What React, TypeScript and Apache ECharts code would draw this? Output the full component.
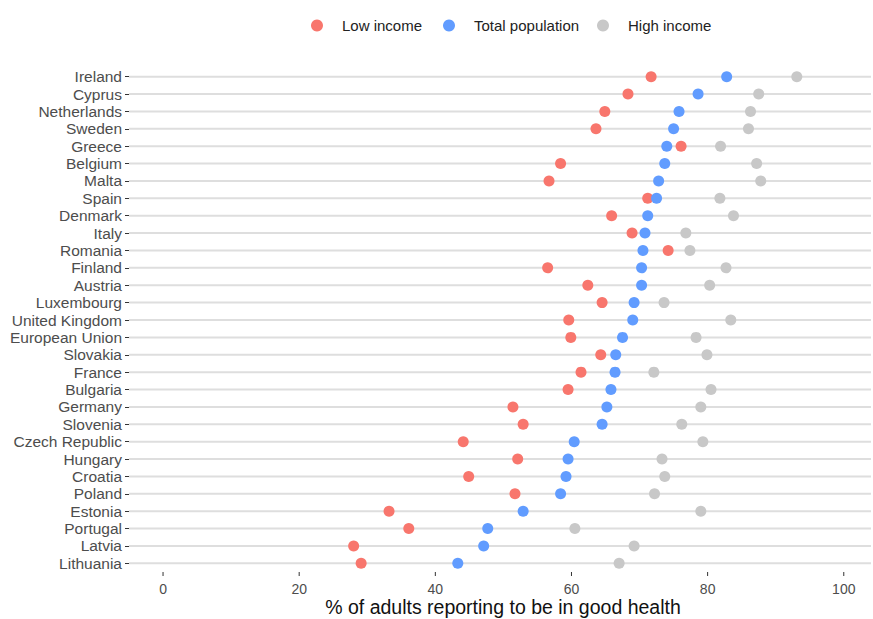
import React, { useEffect, useRef } from "react";
import * as echarts from "echarts";

const countries = [
  "Ireland", "Cyprus", "Netherlands", "Sweden", "Greece", "Belgium", "Malta", "Spain",
  "Denmark", "Italy", "Romania", "Finland", "Austria", "Luxembourg", "United Kingdom",
  "European Union", "Slovakia", "France", "Bulgaria", "Germany", "Slovenia", "Czech Republic",
  "Hungary", "Croatia", "Poland", "Estonia", "Portugal", "Latvia", "Lithuania",
];
const lowIncome = [
  71.7, 68.3, 64.9, 63.6, 76.1, 58.4, 56.7, 71.2, 65.9, 68.9, 74.2, 56.5, 62.4, 64.5, 59.6,
  59.9, 64.3, 61.4, 59.5, 51.4, 52.9, 44.1, 52.1, 44.9, 51.7, 33.2, 36.1, 28.0, 29.1,
];
const totalPopulation = [
  82.8, 78.6, 75.8, 75.0, 74.0, 73.7, 72.8, 72.5, 71.2, 70.8, 70.5, 70.3, 70.3, 69.2, 69.0,
  67.5, 66.5, 66.4, 65.8, 65.2, 64.5, 60.4, 59.5, 59.2, 58.4, 52.9, 47.7, 47.1, 43.3,
];
const highIncome = [
  93.1, 87.5, 86.3, 86.0, 81.9, 87.2, 87.8, 81.8, 83.8, 76.8, 77.4, 82.7, 80.3, 73.6, 83.4,
  78.3, 79.9, 72.1, 80.5, 79.0, 76.2, 79.3, 73.3, 73.7, 72.2, 79.0, 60.5, 69.2, 67.0,
];
const xTickValues = [0, 20, 40, 60, 80, 100];

const X_MIN = -5;
const X_MAX = 104;
const FONT = "'Liberation Sans', Arial, sans-serif";

export default function App() {
  const ref = useRef<HTMLDivElement>(null);
  useEffect(() => {
    if (!ref.current) return;
    const chart = echarts.init(ref.current, undefined, { renderer: "svg" });
    const mk = (arr: number[]) => arr.map((v, i) => [v, countries[i]]);
    const lastCat = countries[countries.length - 1];
    const legendBase = {
      top: 13,
      icon: "circle",
      itemWidth: 40,
      itemHeight: 12,
      textStyle: { fontFamily: FONT, fontSize: 15, color: "#222" },
    };
    chart.setOption({
      animation: false,
      backgroundColor: "#ffffff",
      textStyle: { fontFamily: FONT },
      legend: [
        { ...legendBase, left: 306, data: ["Low income"] },
        { ...legendBase, left: 438, data: ["Total population"] },
        { ...legendBase, left: 592, data: ["High income"] },
      ],
      grid: {
        left: 129,
        right: 2,
        top: 68,
        height: 504,
        outerBoundsMode: "none",
        containLabel: false,
      },
      xAxis: {
        type: "value",
        min: X_MIN,
        max: X_MAX,
        axisLine: { show: false, onZero: false },
        splitLine: { show: false },
        axisTick: { show: false },
        axisLabel: {
          margin: 10,
          fontSize: 14,
          color: "#4d4d4d",
          fontFamily: FONT,
          customValues: xTickValues,
        },
        name: "% of adults reporting to be in good health",
        nameLocation: "middle",
        nameGap: 25,
        nameMoveOverlap: false,
        nameTextStyle: { fontSize: 19.5, color: "#111", fontFamily: FONT, padding: [0, 0, 0, 6] },
      },
      yAxis: {
        type: "category",
        data: countries,
        inverse: true,
        axisLine: { show: false, onZero: false },
        axisTick: { show: true, alignWithLabel: true, interval: 0, length: 4, lineStyle: { color: "#333" } },
        axisLabel: { margin: 7, interval: 0, fontSize: 15.5, color: "#4d4d4d", fontFamily: FONT },
        splitLine: { show: false },
      },
      series: [
        {
          type: "custom",
          silent: true,
          z: 1,
          data: countries.map((c) => [X_MIN, c]),
          encode: { x: 0, y: 1 },
          renderItem: (params: any, api: any) => {
            const y = api.value(1);
            const p1 = api.coord([X_MIN, y]);
            const p2 = api.coord([X_MAX, y]);
            return {
              type: "line",
              shape: { x1: p1[0], y1: p1[1], x2: p2[0], y2: p2[1] },
              style: { stroke: "#dedede", lineWidth: 2 },
            };
          },
        },
        {
          type: "custom",
          silent: true,
          z: 1,
          clip: false,
          data: xTickValues.map((v) => [v, lastCat]),
          encode: { x: 0, y: 1 },
          renderItem: (params: any, api: any) => {
            const p = api.coord([api.value(0), api.value(1)]);
            const band = api.size([0, 1])[1];
            const yb = p[1] + band / 2;
            return {
              type: "line",
              shape: { x1: p[0], y1: yb, x2: p[0], y2: yb + 4 },
              style: { stroke: "#333", lineWidth: 1 },
            };
          },
        },
        {
          name: "High income",
          type: "scatter",
          z: 2,
          symbolSize: 11,
          itemStyle: { color: "#c8c8c8", opacity: 1 },
          data: mk(highIncome),
        },
        {
          name: "Low income",
          type: "scatter",
          z: 3,
          symbolSize: 11,
          itemStyle: { color: "#F8766D", opacity: 1 },
          data: mk(lowIncome),
        },
        {
          name: "Total population",
          type: "scatter",
          z: 4,
          symbolSize: 11,
          itemStyle: { color: "#619CFF", opacity: 1 },
          data: mk(totalPopulation),
        },
      ],
    });
    return () => chart.dispose();
  }, []);
  return <div ref={ref} style={{ width: 873, height: 619, position: "absolute", left: 0, top: 0 }} />;
}
